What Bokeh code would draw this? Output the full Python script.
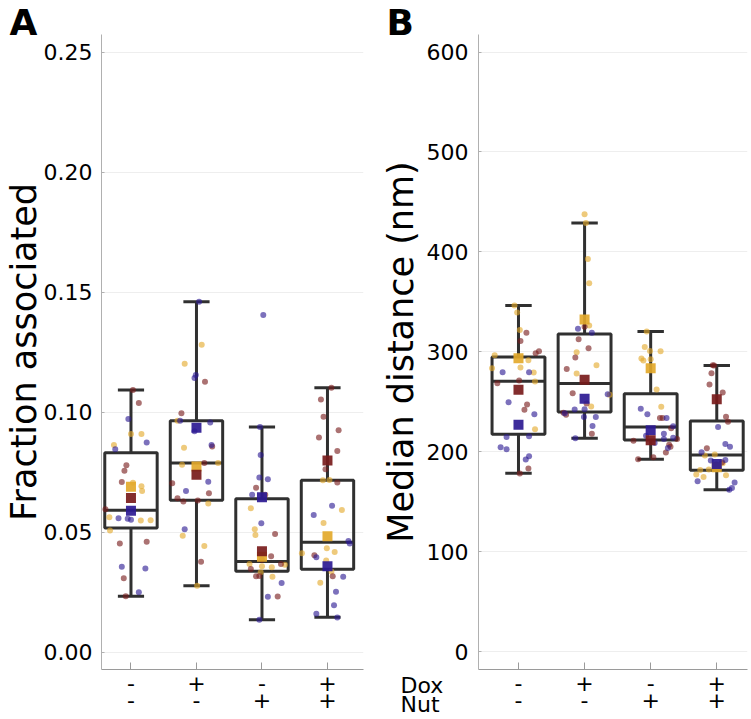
from bokeh.plotting import figure
from bokeh.layouts import row
from bokeh.models import FixedTicker, Range1d, PrintfTickFormatter, LinearAxis
from bokeh.core.properties import value
from bokeh.embed import file_html
from bokeh.resources import INLINE

FONT = "DejaVu Sans"

groups = [1, 2, 3, 4]
dox_labels = ["-", "+", "-", "+"]
nut_labels = ["-", "-", "+", "+"]
row_names = ["Dox", "Nut"]

rep_colors = {"y": "#E3A92B", "r": "#781B1B", "b": "#2C1A93"}

# ---------------- Panel A: Fraction associated ----------------
# (replicate, value, horizontal jitter)
a_g1 = [("r", 0.1093, 0.03), ("r", 0.1039, 0.12), ("b", 0.0972, -0.04), ("y", 0.0910, 0.0),
        ("y", 0.0910, 0.16), ("y", 0.0864, -0.26), ("b", 0.0846, -0.24), ("b", 0.0874, 0.24),
        ("r", 0.0779, -0.07), ("r", 0.0756, -0.10), ("r", 0.0710, -0.14), ("y", 0.0706, 0.03),
        ("y", 0.0692, 0.16), ("y", 0.0672, 0.17), ("r", 0.0596, -0.39), ("y", 0.0563, -0.33),
        ("b", 0.0558, -0.19), ("b", 0.0556, -0.05), ("b", 0.0552, 0.0), ("y", 0.0549, 0.15),
        ("y", 0.0550, 0.30), ("y", 0.0507, -0.32), ("r", 0.0453, -0.17), ("r", 0.0461, 0.24),
        ("b", 0.0356, -0.14), ("b", 0.0349, 0.22), ("r", 0.0308, -0.11), ("b", 0.0250, 0.12),
        ("r", 0.0233, -0.08)]
a_g2 = [("b", 0.1461, 0.04), ("y", 0.1282, 0.08), ("y", 0.1202, -0.18), ("b", 0.1156, -0.01),
        ("b", 0.1143, -0.03), ("r", 0.1128, 0.13), ("r", 0.0996, -0.23), ("y", 0.0965, -0.29),
        ("b", 0.0965, -0.25), ("b", 0.0958, 0.21), ("b", 0.0921, -0.03), ("y", 0.0852, -0.19),
        ("b", 0.0864, 0.23), ("r", 0.0858, 0.24), ("y", 0.0781, -0.22), ("r", 0.0789, 0.12),
        ("y", 0.0789, 0.33), ("r", 0.0704, -0.37), ("b", 0.0711, 0.18), ("b", 0.0672, -0.16),
        ("r", 0.0663, 0.19), ("r", 0.0642, -0.29), ("r", 0.0628, -0.20), ("r", 0.0632, 0.02),
        ("y", 0.0620, 0.18), ("b", 0.0513, -0.18), ("y", 0.0486, -0.21), ("y", 0.0443, 0.12),
        ("r", 0.0377, 0.07), ("y", 0.0277, 0.01)]
a_g3 = [("b", 0.1406, 0.02), ("b", 0.0939, -0.03), ("b", 0.0822, -0.02), ("b", 0.0728, -0.04),
        ("b", 0.0721, 0.09), ("r", 0.0686, -0.09), ("b", 0.0656, -0.15), ("r", 0.0656, 0.05),
        ("y", 0.0600, -0.17), ("b", 0.0538, -0.01), ("y", 0.0513, -0.11), ("y", 0.0489, -0.10),
        ("r", 0.0493, 0.20), ("r", 0.0400, 0.14), ("r", 0.0386, 0.0), ("y", 0.0368, -0.19),
        ("y", 0.0358, 0.0), ("y", 0.0354, 0.15), ("r", 0.0368, 0.29), ("y", 0.0365, 0.35),
        ("r", 0.0347, -0.17), ("y", 0.0333, -0.02), ("r", 0.0317, -0.09), ("r", 0.0318, -0.04),
        ("y", 0.0315, 0.16), ("b", 0.0289, 0.30), ("b", 0.0231, 0.09), ("r", 0.0232, 0.24),
        ("b", 0.0135, -0.04)]
a_g4 = [("r", 0.1102, 0.06), ("r", 0.1054, -0.10), ("r", 0.0982, -0.06), ("r", 0.0925, 0.17),
        ("r", 0.0895, -0.13), ("r", 0.0839, 0.15), ("r", 0.0763, -0.03), ("y", 0.0717, -0.07),
        ("y", 0.0718, 0.03), ("r", 0.0708, 0.15), ("b", 0.0611, 0.07), ("y", 0.0593, 0.22),
        ("b", 0.0572, -0.21), ("y", 0.0539, -0.06), ("b", 0.0464, 0.32), ("b", 0.0453, 0.34),
        ("y", 0.0413, -0.39), ("y", 0.0433, -0.01), ("y", 0.0418, 0.11), ("r", 0.0404, -0.20),
        ("b", 0.0396, -0.17), ("y", 0.0382, -0.02), ("y", 0.0336, 0.06), ("r", 0.0317, 0.08),
        ("b", 0.0315, 0.24), ("y", 0.0290, -0.11), ("b", 0.0252, 0.13), ("b", 0.0196, 0.10),
        ("b", 0.0160, -0.17), ("b", 0.0145, 0.15)]
a_points = [a_g1, a_g2, a_g3, a_g4]

a_q1 = [0.0518, 0.0633, 0.0338, 0.0346]
a_med = [0.0592, 0.0789, 0.0378, 0.0458]
a_q3 = [0.0832, 0.0965, 0.0640, 0.0717]
a_lo = [0.0233, 0.0277, 0.0135, 0.0146]
a_hi = [0.1093, 0.1461, 0.0939, 0.1102]

a_mean_y = [0.0690, 0.0774, 0.0398, 0.0483]
a_mean_r = [0.0643, 0.0740, 0.0421, 0.0799]
a_mean_b = [0.0590, 0.0936, 0.0646, 0.0358]

a_yticks = [0.0, 0.05, 0.10, 0.15, 0.20, 0.25]

# ---------------- Panel B: Median distance (nm) ----------------
b_g1 = [("y", 346.4, -0.06), ("y", 339.4, -0.02), ("y", 321.8, 0.02), ("r", 319.1, 0.12),
        ("r", 310.8, 0.03), ("r", 298.5, 0.26), ("r", 300.5, 0.31), ("y", 296.5, -0.36),
        ("y", 291.5, 0.15), ("y", 283.5, -0.40), ("y", 284.2, 0.03), ("b", 279.6, -0.24),
        ("b", 279.6, 0.16), ("y", 279.2, 0.23), ("r", 271.3, 0.01), ("y", 270.3, 0.25),
        ("r", 268.6, -0.32), ("b", 249.6, -0.15), ("r", 247.3, 0.13), ("r", 242.0, 0.09),
        ("b", 237.4, 0.24), ("y", 222.4, 0.25), ("b", 214.7, -0.18), ("b", 215.4, 0.16),
        ("b", 204.5, -0.27), ("b", 202.5, -0.18), ("b", 195.5, 0.16), ("b", 192.1, 0.11),
        ("r", 183.1, 0.15), ("r", 178.1, 0.02)]
b_g2 = [("y", 437.8, 0.0), ("y", 428.9, 0.02), ("y", 393.0, 0.05), ("y", 368.7, 0.07),
        ("y", 326.4, 0.07), ("r", 325.1, 0.0), ("b", 323.1, -0.10), ("b", 319.1, 0.11),
        ("r", 312.5, -0.09), ("r", 303.5, 0.06), ("y", 299.5, -0.12), ("r", 294.2, -0.14),
        ("y", 286.5, 0.18), ("r", 282.8, -0.27), ("y", 278.3, -0.12), ("r", 258.6, -0.18),
        ("b", 257.6, 0.35), ("y", 256.9, 0.38), ("r", 248.3, 0.03), ("y", 245.3, 0.10),
        ("b", 242.3, -0.15), ("b", 242.6, 0.0), ("r", 239.0, -0.32), ("r", 237.0, -0.28),
        ("b", 238.4, -0.30), ("b", 234.7, -0.01), ("b", 234.7, 0.17), ("b", 225.7, 0.12),
        ("r", 218.0, 0.11), ("b", 213.4, -0.14)]
b_g3 = [("y", 320.2, -0.06), ("y", 304.8, -0.09), ("y", 300.8, -0.01), ("y", 300.5, 0.15),
        ("y", 293.2, -0.14), ("y", 291.2, -0.11), ("y", 292.5, 0.0), ("y", 262.3, 0.09),
        ("b", 243.0, -0.15), ("y", 245.0, 0.16), ("b", 237.4, -0.05), ("r", 233.7, 0.14),
        ("r", 233.7, 0.18), ("b", 233.7, 0.24), ("b", 225.4, 0.34), ("r", 223.4, 0.31),
        ("b", 216.0, -0.07), ("b", 218.0, 0.20), ("b", 212.7, 0.20), ("b", 214.0, 0.34),
        ("b", 208.7, 0.06), ("r", 211.0, -0.26), ("r", 207.0, 0.28), ("r", 212.7, 0.40),
        ("r", 205.0, 0.30), ("b", 203.8, 0.26), ("r", 199.1, 0.23), ("r", 194.5, 0.04),
        ("r", 192.5, -0.19)]
b_g4 = [("r", 286.5, -0.06), ("r", 286.2, -0.04), ("r", 278.6, -0.08), ("r", 267.3, -0.11),
        ("r", 259.3, 0.09), ("r", 235.0, 0.14), ("r", 230.0, 0.17), ("b", 224.7, 0.02),
        ("b", 207.7, 0.13), ("b", 205.0, 0.20), ("r", 203.5, -0.15), ("b", 199.5, -0.23),
        ("y", 196.1, -0.18), ("y", 197.1, -0.03), ("b", 191.1, -0.09), ("b", 191.8, 0.13),
        ("r", 189.5, 0.08), ("y", 188.5, 0.09), ("r", 187.1, -0.01), ("y", 181.8, -0.25),
        ("y", 182.1, -0.12), ("y", 177.1, -0.31), ("y", 174.8, -0.20), ("y", 176.5, 0.14),
        ("b", 170.5, -0.29), ("b", 169.2, 0.27), ("b", 163.6, 0.23), ("b", 161.9, 0.19)]
b_points = [b_g1, b_g2, b_g3, b_g4]

b_q1 = [217.4, 239.7, 211.7, 181.5]
b_med = [270.6, 268.3, 224.7, 196.8]
b_q3 = [294.8, 317.8, 257.9, 230.7]
b_lo = [178.5, 213.4, 192.5, 161.9]
b_hi = [346.4, 428.9, 320.2, 286.2]

b_mean_y = [293.5, 332.4, 283.5, 184.5]
b_mean_r = [261.9, 271.9, 211.4, 252.6]
b_mean_b = [227.0, 252.9, 221.4, 187.8]

b_yticks = [0, 100, 200, 300, 400, 500, 600]


def style_label_axis(ax, labels, standoff):
    ax.ticker = FixedTicker(ticks=groups)
    ax.major_label_overrides = {g: t for g, t in zip(groups, labels)}
    ax.major_label_text_font = FONT
    ax.major_label_text_font_size = "22px"
    ax.major_label_text_color = "black"
    ax.major_label_standoff = standoff
    ax.minor_tick_line_color = None


def make_panel(points, q1, med, q3, lo, hi, means, yticks, ylabel, xr, yr, fmt,
               frame_w, frame_h, bl, br, bt, bb, tick_standoff, label_standoff):
    p = figure(frame_width=frame_w, frame_height=frame_h,
               min_border_left=bl, min_border_right=br, min_border_top=bt, min_border_bottom=bb,
               x_range=Range1d(*xr), y_range=Range1d(*yr),
               output_backend="svg", toolbar_location=None, tools="")
    p.outline_line_color = None
    p.background_fill_color = "white"
    p.border_fill_color = "white"

    box_col = "#303030"
    bw = 0.4
    cw = 0.2
    left = [g - bw for g in groups]
    right = [g + bw for g in groups]
    p.quad(left=left, right=right, bottom=q1, top=q3, fill_color=None,
           line_color=box_col, line_width=3)
    p.segment(x0=left, y0=med, x1=right, y1=med, line_color=box_col, line_width=3)
    p.segment(x0=groups, y0=q3, x1=groups, y1=hi, line_color=box_col, line_width=3)
    p.segment(x0=groups, y0=q1, x1=groups, y1=lo, line_color=box_col, line_width=3)
    p.segment(x0=[g - cw for g in groups], y0=hi, x1=[g + cw for g in groups], y1=hi,
              line_color=box_col, line_width=3)
    p.segment(x0=[g - cw for g in groups], y0=lo, x1=[g + cw for g in groups], y1=lo,
              line_color=box_col, line_width=3)

    for g, pts in zip(groups, points):
        for rep in ["y", "r", "b"]:
            xs = [g + j for (c, v, j) in pts if c == rep]
            ys = [v for (c, v, j) in pts if c == rep]
            p.scatter(xs, ys, size=6, fill_color=rep_colors[rep], fill_alpha=0.62,
                      line_color=None)

    for rep in ["y", "b", "r"]:
        p.scatter(groups, means[rep], marker="square", size=10,
                  fill_color=rep_colors[rep], fill_alpha=0.92, line_color=None)

    # x axis (Dox row) with inward ticks
    style_label_axis(p.xaxis[0], dox_labels, 5)
    p.xaxis.major_tick_in = 7
    p.xaxis.major_tick_out = 0
    p.xaxis.axis_line_color = "#9a9a9a"
    p.xaxis.major_tick_line_color = "#9a9a9a"
    # second row (Nut) as a bare axis just below
    nut_axis = LinearAxis(axis_line_color=None, major_tick_line_color=None,
                          major_tick_in=0, major_tick_out=0)
    style_label_axis(nut_axis, nut_labels, -2)
    p.add_layout(nut_axis, "below")

    p.yaxis.ticker = FixedTicker(ticks=yticks)
    p.yaxis.formatter = PrintfTickFormatter(format=fmt)
    p.yaxis.major_label_text_font = FONT
    p.yaxis.major_label_text_font_size = "22px"
    p.yaxis.major_label_text_color = "black"
    p.yaxis.major_label_standoff = tick_standoff
    p.yaxis.major_tick_in = 3
    p.yaxis.major_tick_out = 0
    p.yaxis.minor_tick_line_color = None
    p.yaxis.axis_line_color = "#b0b0b0"
    p.yaxis.major_tick_line_color = "#b0b0b0"
    p.yaxis.axis_label = ylabel
    p.yaxis.axis_label_text_font = FONT
    p.yaxis.axis_label_text_font_size = "35px"
    p.yaxis.axis_label_text_font_style = "normal"
    p.yaxis.axis_label_text_color = "black"
    p.yaxis.axis_label_standoff = label_standoff

    p.xgrid.visible = False
    p.ygrid.ticker = FixedTicker(ticks=yticks)
    p.ygrid.grid_line_color = "#eeeeee"
    p.ygrid.grid_line_width = 1
    return p


def add_text(p, xs, ys, texts, size, style="normal", align="center", baseline="middle"):
    p.text(x=xs, y=ys, text=texts, level="overlay",
           text_font=value(FONT), text_font_size=value(size), text_font_style=style,
           text_align=align, text_baseline=baseline, text_color="black")


# A: canvas 370 wide (frame 102..364); B: canvas 365 wide (frame 473..742); frames 34..669
pA = make_panel(a_points, a_q1, a_med, a_q3, a_lo, a_hi,
                {"y": a_mean_y, "r": a_mean_r, "b": a_mean_b},
                a_yticks, "Fraction associated", (0.55, 4.55), (-0.0072, 0.2575), "%.2f",
                262, 635, 94, 14, 34, 49, 9, -3)
pB = make_panel(b_points, b_q1, b_med, b_q3, b_lo, b_hi,
                {"y": b_mean_y, "r": b_mean_r, "b": b_mean_b},
                b_yticks, "Median distance (nm)", (0.395, 4.465), (-18.0, 617.6), "%d",
                269, 635, 95, 1, 34, 49, 10, 3)

# row names to the left of the B tick-label rows
b_row_y = [-34.0, -53.5]
add_text(pB, [-0.785, -0.785], b_row_y, row_names, "22px", align="left")

# panel letters
add_text(pA, [-0.855], [0.2625], ["A"], "36px", style="bold", align="left")
add_text(pB, [-0.997], [629.6], ["B"], "36px", style="bold", align="left")

layout = row(pA, pB)
open("out.html", "w").write(file_html(layout, INLINE))
